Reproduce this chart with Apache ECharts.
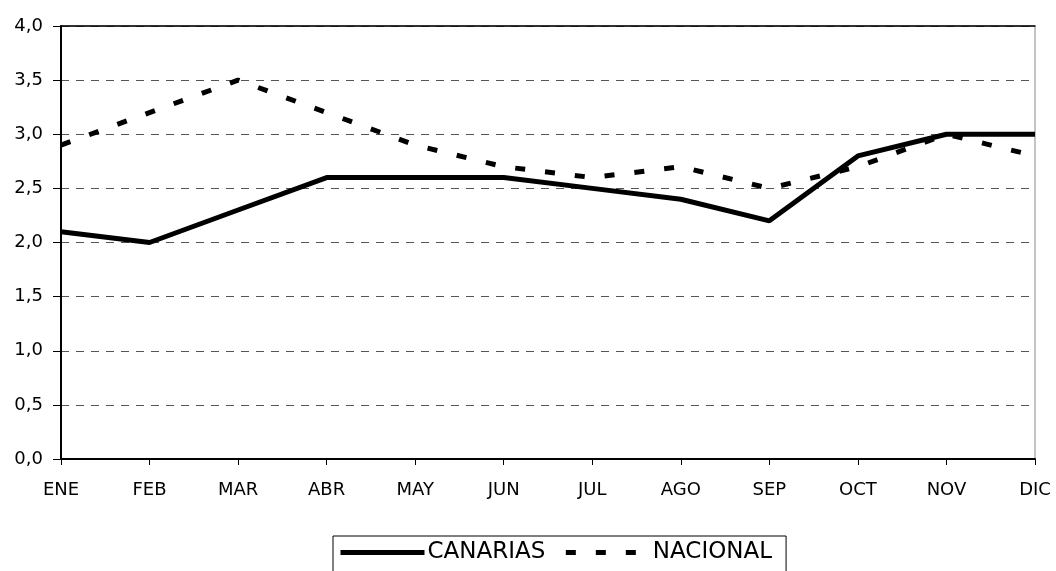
<!DOCTYPE html>
<html lang="es">
<head>
  <meta charset="UTF-8">
  <title>Canarias vs Nacional</title>
  <script src="https://cdn.jsdelivr.net/npm/echarts@6/dist/echarts.min.js"></script>
  <style>
    html, body { margin: 0; padding: 0; background: #fff; }
  </style>
</head>
<body>
<div id="main" style="width: 1056px;height:571px;"></div>
<script>
  // datos
  var meses = ['ENE', 'FEB', 'MAR', 'ABR', 'MAY', 'JUN', 'JUL', 'AGO', 'SEP', 'OCT', 'NOV', 'DIC'];
  var canarias = [2.1, 2.0, 2.3, 2.6, 2.6, 2.6, 2.5, 2.4, 2.2, 2.8, 3.0, 3.0];
  var nacional = [2.9, 3.2, 3.5, 3.2, 2.9, 2.7, 2.6, 2.7, 2.5, 2.7, 3.0, 2.8];

  var fuente = 'DejaVu Sans';
  var myChart = echarts.init(document.getElementById('main'));

  myChart.setOption({
    backgroundColor: '#fff',
    animation: false,
    grid: { left: 61, right: 21, top: 26, bottom: 112, show: true, borderColor: '#888', borderWidth: 1 },
    legend: {
      top: 536,
      left: 333,
      itemWidth: 84,
      itemHeight: 20,
      itemGap: 18,
      padding: [5, 14, 8, 5],
      borderColor: '#000',
      borderWidth: 1,
      itemStyle: { opacity: 0 },
      lineStyle: { width: 5 },
      textStyle: { fontFamily: fuente, fontSize: 23, color: '#000', padding: [0, 0, 0, -2] },
      data: ['CANARIAS', 'NACIONAL']
    },
    xAxis: [{
      type: 'category',
      data: meses,
      boundaryGap: false,
      axisLine: { lineStyle: { color: '#000', width: 2 } },
      axisTick: { show: true, length: 6, lineStyle: { color: '#000' } },
      axisLabel: { fontFamily: fuente, fontSize: 18, color: '#000', margin: 22 },
      splitLine: { show: false }
    }, {
      // línea superior sólida
      type: 'category',
      position: 'top',
      data: meses,
      boundaryGap: false,
      axisLine: { lineStyle: { color: '#000', width: 1.5 } },
      axisTick: { show: false },
      axisLabel: { show: false }
    }],
    yAxis: {
      type: 'value',
      min: 0,
      max: 4,
      interval: 0.5,
      axisLine: { show: true, lineStyle: { color: '#000', width: 2 } },
      axisTick: { show: true, length: 8, lineStyle: { color: '#000' } },
      axisLabel: {
        fontFamily: fuente, fontSize: 18, color: '#000', margin: 18,
        formatter: function (v) { return v.toFixed(1).replace('.', ','); }
      },
      splitLine: { show: true, lineStyle: { color: '#555', type: [8, 7], width: 1 } }
    },
    series: [
      {
        name: 'CANARIAS',
        type: 'line',
        data: canarias,
        symbol: 'none',
        lineStyle: { color: '#000', width: 5 },
        itemStyle: { color: '#000' }
      },
      {
        name: 'NACIONAL',
        type: 'line',
        data: nacional,
        symbol: 'none',
        lineStyle: { color: '#000', width: 5, type: [10, 20] },
        itemStyle: { color: '#000' }
      }
    ]
  });
</script>
</body>
</html>
